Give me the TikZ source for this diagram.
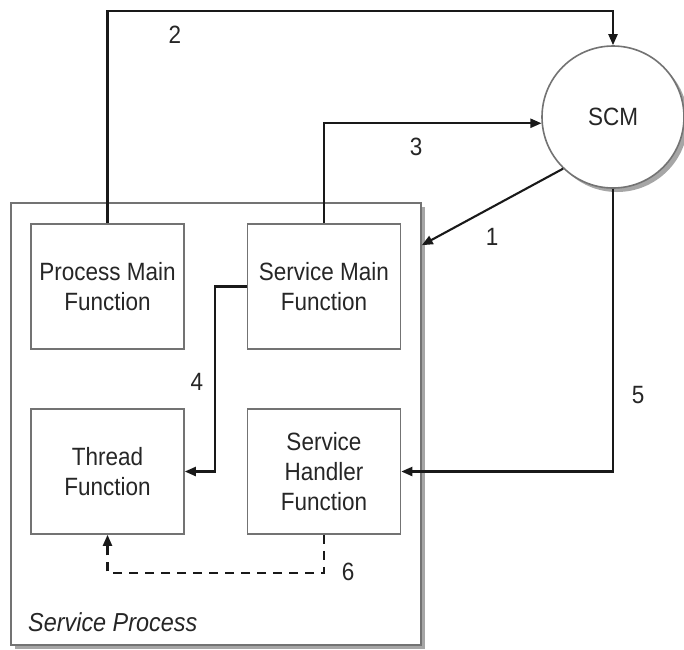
\documentclass[tikz,border=0pt]{standalone}
\usepackage{fontspec}
\setmainfont[FakeStretch=0.9]{Liberation Sans}
\usetikzlibrary{arrows.meta,shadows,calc}
\begin{document}
\begin{tikzpicture}[x=1pt,y=-1pt,
  func/.style={draw=black!55,line width=1.6pt,minimum width=153pt,minimum height=125pt,
    align=center,inner sep=0pt,font=\fontsize{25}{30}\selectfont,fill=white,text=black!85},
  conn/.style={draw=black!90,line width=2.1pt,-{Triangle[length=11pt,width=9pt]}},
  dconn/.style={conn,dash pattern=on 9pt off 7pt},
  lbl/.style={font=\fontsize{25}{30}\selectfont,inner sep=0pt,text=black!85},
  shd/.style={drop shadow={shadow xshift=4pt,shadow yshift=-4pt,fill=black!35,opacity=1}}]
\useasboundingbox (0,0) rectangle (684,649);
% outer process box
\node[draw=black!55,line width=1.6pt,fill=white,minimum width=410pt,minimum height=442pt,
  inner sep=0pt,shd] (sp) at (216,424) {};
\node[lbl,anchor=west,font=\fontsize{26}{30}\selectfont\itshape] (spl) at (28,622) {Service Process};
% function boxes
\node[func] (pm) at (107.5,286.5) {Process Main\\Function};
\node[func] (sm) at (324,286.5) {Service Main\\Function};
\node[func] (tf) at (107.5,471.5) {Thread\\Function};
\node[func] (sh) at (324,471.5) {Service\\Handler\\Function};
% SCM
\node[circle,draw=black!55,line width=1.6pt,fill=white,minimum size=142pt,inner sep=0pt,
  font=\fontsize{25}{30}\selectfont,text=black!85,shd] (scm) at (613,117) {SCM};
% connectors
\path (scm.north) ++(0,-34) coordinate (c2);
\draw[conn] (pm.north) |- (c2) -- (scm.north);
\draw[conn] (sm.north) |- (scm.185);
\coordinate (c1) at ($(sp.north east)+(0,43)$);
\draw[conn] (scm.226) -- (c1);
\draw[conn] (sm.west) -- ++(-32,0) |- (tf.east);
\draw[conn] (scm.south) |- (sh.east);
\draw[dconn] (sh.south) -- ++(0,38) -| (tf.south);
% labels
\node[lbl] (l2) at (175,35) {2};
\node[lbl] (l3) at (416,147) {3};
\node[lbl] (l1) at (492,237) {1};
\node[lbl] (l4) at (197,382) {4};
\node[lbl] (l5) at (638,395) {5};
\node[lbl] (l6) at (348,572) {6};
\end{tikzpicture}
\end{document}
